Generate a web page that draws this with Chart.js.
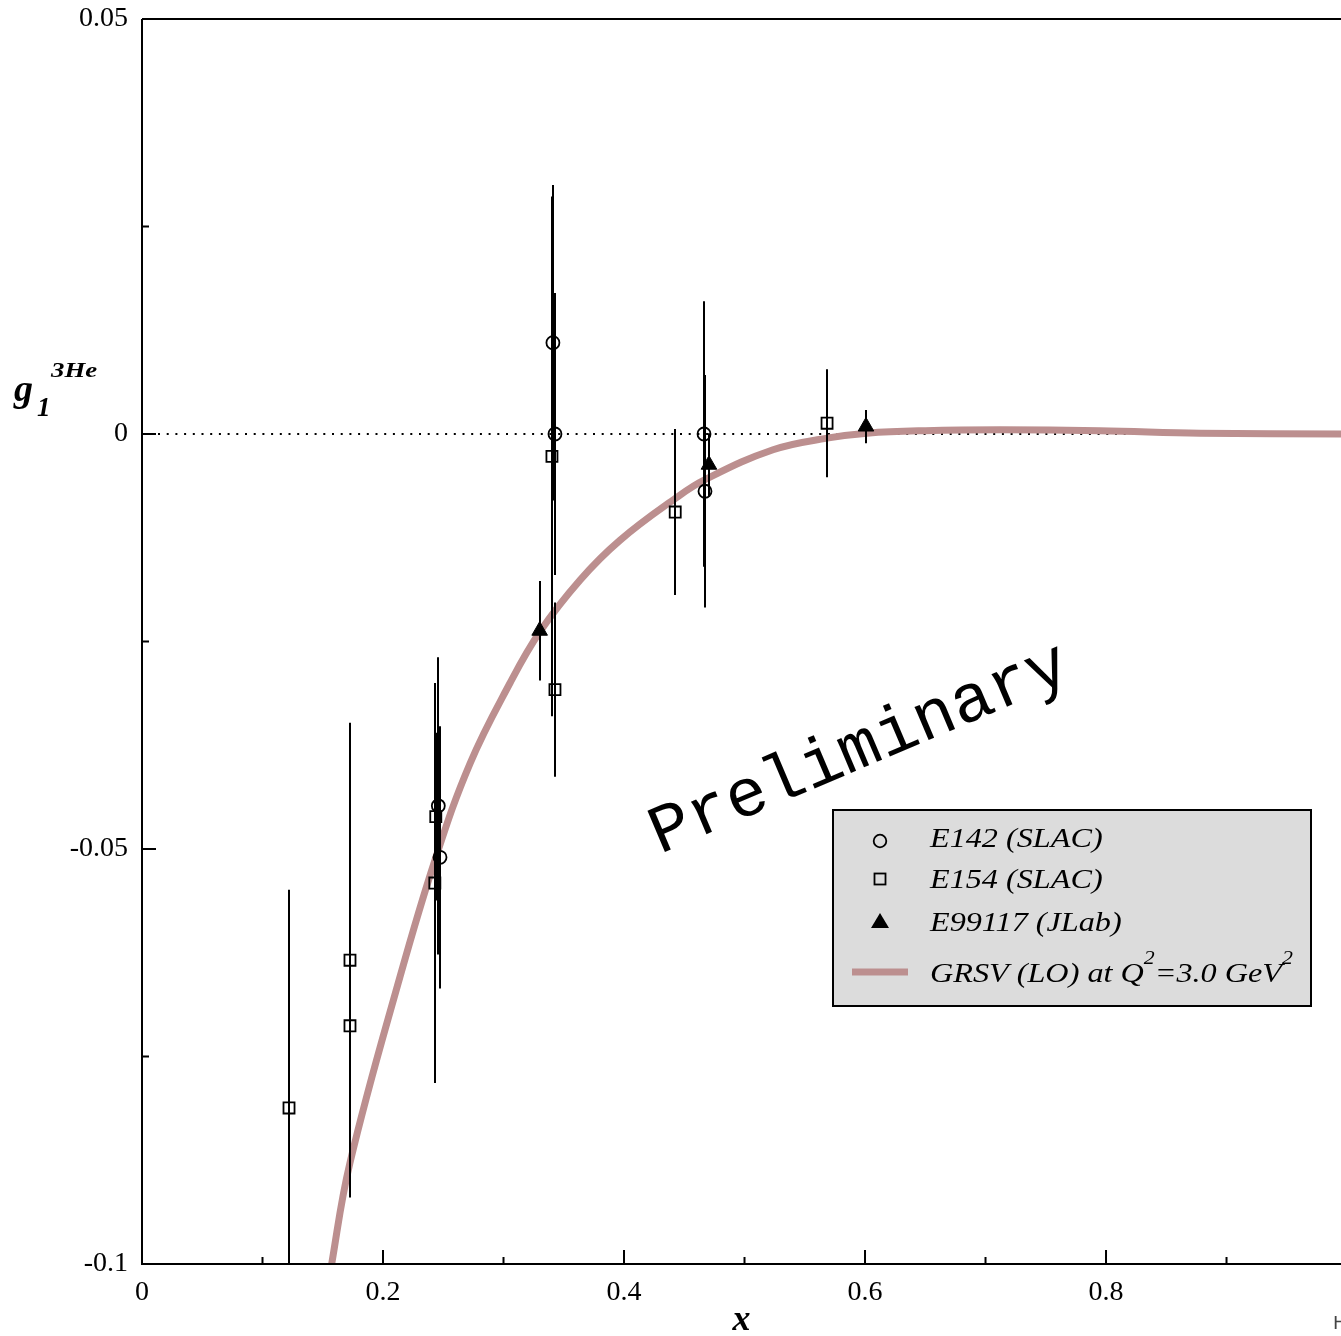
<!DOCTYPE html>
<html>
<head>
<meta charset="utf-8">
<script src="https://cdn.jsdelivr.net/npm/chart.js@4.4.1/dist/chart.umd.min.js"></script>
<style>
  html, body { margin: 0; padding: 0; background: #fff; }
  #wrap { width: 1341px; height: 1336px; }
</style>
</head>
<body>
<div id="wrap"><canvas id="g1Chart" width="1341" height="1336"></canvas></div>
<script>
// E142 (SLAC) - open circles
const e142X = [0.2459, 0.2473, 0.3410, 0.3427, 0.4664, 0.4672];
const e142Y = [-0.0448, -0.0510, 0.0110, 0.0000, 0.0000, -0.0069];
const e142Err = [0.0179, 0.0158, 0.0190, 0.0170, 0.0160, 0.0140];

// E154 (SLAC) - open squares
const e154X = [0.1220, 0.1726, 0.1726, 0.2438, 0.2430, 0.3402, 0.3427, 0.4425, 0.5685];
const e154Y = [-0.0812, -0.0634, -0.0713, -0.0461, -0.0541, -0.0027, -0.0308, -0.0094, 0.0013];
const e154Err = [0.0263, 0.0286, 0.0147, 0.0101, 0.0241, 0.0313, 0.0105, 0.0100, 0.0065];

// E99117 (JLab) - filled triangles
const e99117X = [0.3300, 0.4705, 0.6008];
const e99117Y = [-0.0237, -0.0037, 0.0009];
const e99117Err = [0.0060, 0.0038, 0.0020];

// GRSV (LO) at Q^2 = 3.0 GeV^2
const grsvX = [0.150, 0.1574, 0.1726, 0.2141, 0.2432, 0.2722, 0.3054, 0.3303, 0.3635, 0.3967,
               0.4432, 0.4672, 0.5237, 0.5685, 0.6017, 0.650, 0.712, 0.795, 0.878, 0.995];
const grsvY = [-0.107, -0.100, -0.0878, -0.0654, -0.0513, -0.0397, -0.0300, -0.0238, -0.0176, -0.0128,
               -0.0077, -0.0055, -0.0019, -0.0005, 0.0001, 0.0004, 0.0005, 0.0004, 0.0001, 0.0];

const xMinorTicks = [0.1, 0.3, 0.5, 0.7, 0.9];
const yMinorTicks = [0.025, -0.025, -0.075];

const CURVE_COLOR = '#BC8F8F';
const SERIF = '"Liberation Serif", "Times New Roman", serif';

const toPoints = (xs, ys) => xs.map((v, i) => ({ x: v, y: ys[i] }));
const fmt = v => {
    const r = Math.round(v * 1000) / 1000;
    return r === 0 ? '0' : String(r);
};

// draw a run of text pieces, stretched horizontally a little like the original
function drawRun(ctx, parts, x, baseline, sx) {
    ctx.save();
    ctx.translate(x, baseline);
    ctx.scale(sx, 1);
    let cx = 0;
    for (const p of parts) {
        ctx.font = p.font;
        ctx.fillText(p.text, cx, p.dy || 0);
        cx += ctx.measureText(p.text).width;
    }
    ctx.restore();
}

const errorSets = [
    { xs: e142X, ys: e142Y, err: e142Err },
    { xs: e154X, ys: e154Y, err: e154Err },
    { xs: e99117X, ys: e99117Y, err: e99117Err }
];

const decorPlugin = {
    id: 'decor',
    beforeDatasetsDraw(chart) {
        const { ctx, chartArea: a, scales: { y } } = chart;
        const y0 = y.getPixelForValue(0);
        ctx.save();
        ctx.strokeStyle = '#000';
        ctx.lineWidth = 2;
        ctx.setLineDash([2, 6.7]);
        ctx.beginPath();
        ctx.moveTo(a.left + 16, y0);
        ctx.lineTo(a.right, y0);
        ctx.stroke();
        ctx.restore();
    },
    afterDatasetsDraw(chart) {
        const { ctx, chartArea: a, scales: { x, y } } = chart;
        ctx.save();
        ctx.beginPath();
        ctx.rect(a.left, a.top, a.right - a.left, a.bottom - a.top);
        ctx.clip();
        ctx.strokeStyle = '#000';
        ctx.lineWidth = 2;
        errorSets.forEach(s => {
            s.xs.forEach((xv, i) => {
                const px = Math.round(x.getPixelForValue(xv));
                ctx.beginPath();
                ctx.moveTo(px, y.getPixelForValue(s.ys[i] + s.err[i]));
                ctx.lineTo(px, y.getPixelForValue(s.ys[i] - s.err[i]));
                ctx.stroke();
            });
        });
        ctx.restore();
    },
    afterDraw(chart) {
        const { ctx, chartArea: a, scales: { x, y } } = chart;
        ctx.save();
        ctx.strokeStyle = '#000';
        ctx.lineWidth = 2;

        // frame: left, bottom, top
        ctx.beginPath();
        ctx.moveTo(a.left, a.top);
        ctx.lineTo(a.left, a.bottom);
        ctx.lineTo(a.right, a.bottom);
        ctx.moveTo(a.left, a.top);
        ctx.lineTo(a.right, a.top);
        ctx.stroke();

        // inward ticks
        ctx.beginPath();
        x.ticks.forEach(t => {
            const px = x.getPixelForValue(t.value);
            ctx.moveTo(px, a.bottom); ctx.lineTo(px, a.bottom - 14);
        });
        xMinorTicks.forEach(v => {
            const px = x.getPixelForValue(v);
            if (px > a.right) return;
            ctx.moveTo(px, a.bottom); ctx.lineTo(px, a.bottom - 7);
        });
        y.ticks.forEach(t => {
            const py = y.getPixelForValue(t.value);
            ctx.moveTo(a.left, py); ctx.lineTo(a.left + 14, py);
        });
        yMinorTicks.forEach(v => {
            const py = y.getPixelForValue(v);
            ctx.moveTo(a.left, py); ctx.lineTo(a.left + 7, py);
        });
        ctx.stroke();

        // y axis title g1^3He
        ctx.fillStyle = '#000';
        ctx.textBaseline = 'alphabetic';
        ctx.textAlign = 'left';
        ctx.font = 'italic bold 38px ' + SERIF;
        ctx.fillText('g', 14, 401);
        ctx.font = 'italic bold 27px ' + SERIF;
        ctx.fillText('1', 37, 416);
        drawRun(ctx, [{ text: '3He', font: 'italic bold 22px ' + SERIF }], 51, 377, 1.22);

        // Preliminary
        ctx.save();
        ctx.translate(660, 854);
        ctx.rotate(-23 * Math.PI / 180);
        ctx.font = '68px "Liberation Mono", monospace';
        ctx.fillText('Preliminary', 0, 0);
        ctx.restore();

        // legend box
        ctx.fillStyle = '#dcdcdc';
        ctx.fillRect(833, 810, 478, 196);
        ctx.strokeRect(833, 810, 478, 196);

        ctx.lineWidth = 1.8;
        ctx.beginPath();
        ctx.arc(880, 841, 6.3, 0, Math.PI * 2);
        ctx.stroke();
        ctx.strokeRect(874.5, 873.5, 11, 11);
        ctx.fillStyle = '#000';
        ctx.beginPath();
        ctx.moveTo(880, 913);
        ctx.lineTo(889, 928);
        ctx.lineTo(871, 928);
        ctx.closePath();
        ctx.fill();
        ctx.strokeStyle = CURVE_COLOR;
        ctx.lineWidth = 7;
        ctx.beginPath();
        ctx.moveTo(852, 972);
        ctx.lineTo(908, 972);
        ctx.stroke();

        const it = 'italic 28px ' + SERIF;
        const sup = 'italic 19px ' + SERIF;
        drawRun(ctx, [{ text: 'E142 (SLAC)', font: it }], 930, 847, 1.15);
        drawRun(ctx, [{ text: 'E154 (SLAC)', font: it }], 930, 888, 1.15);
        drawRun(ctx, [{ text: 'E99117 (JLab)', font: it }], 930, 931, 1.15);
        drawRun(ctx, [
            { text: 'GRSV (LO) at Q', font: it },
            { text: '2', font: sup, dy: -18 },
            { text: '=3.0 GeV', font: it },
            { text: '2', font: sup, dy: -18 }
        ], 930, 982, 1.15);

        // cut-off mark at bottom right
        ctx.fillStyle = '#444';
        ctx.font = '18px "DejaVu Sans", sans-serif';
        ctx.fillText('H', 1333, 1329);
        ctx.restore();
    }
};

const ctx = document.getElementById('g1Chart').getContext('2d');
new Chart(ctx, {
    type: 'scatter',
    data: {
        datasets: [
            {
                label: 'GRSV (LO) at Q2=3.0 GeV2',
                data: toPoints(grsvX, grsvY),
                showLine: true,
                borderColor: CURVE_COLOR,
                borderWidth: 7,
                pointRadius: 0,
                tension: 0.4,
                clip: 0,
                order: 3
            },
            {
                label: 'E142 (SLAC)',
                data: toPoints(e142X, e142Y),
                pointStyle: 'circle',
                pointRadius: 6.5,
                borderColor: '#000',
                borderWidth: 1.8,
                backgroundColor: 'rgba(0,0,0,0)',
                order: 1
            },
            {
                label: 'E154 (SLAC)',
                data: toPoints(e154X, e154Y),
                pointStyle: 'rect',
                pointRadius: 7.8,
                borderColor: '#000',
                borderWidth: 1.8,
                backgroundColor: 'rgba(0,0,0,0)',
                order: 1
            },
            {
                label: 'E99117 (JLab)',
                data: toPoints(e99117X, e99117Y),
                pointStyle: 'triangle',
                pointRadius: 9,
                borderColor: '#000',
                borderWidth: 1,
                backgroundColor: '#000',
                order: 2
            }
        ]
    },
    options: {
        responsive: false,
        animation: false,
        layout: { autoPadding: false, padding: { top: 19, right: 0, bottom: 0, left: 0 } },
        plugins: {
            legend: { display: false },
            tooltip: { enabled: false }
        },
        scales: {
            x: {
                type: 'linear',
                min: 0,
                max: 0.995,
                grid: { display: false, drawTicks: false },
                border: { display: false },
                ticks: {
                    stepSize: 0.2,
                    includeBounds: false,
                    padding: 12,
                    color: '#000',
                    maxRotation: 0,
                    autoSkip: false,
                    font: { family: SERIF, size: 28 },
                    callback: v => fmt(v)
                },
                title: {
                    display: true,
                    text: 'x',
                    color: '#000',
                    font: { family: SERIF, size: 36, style: 'italic', weight: 'bold' },
                    padding: { top: 0, bottom: -6 }
                },
                afterFit: s => {
                    s.height = 72;
                    s.paddingLeft = 0;
                    s.paddingRight = 0;
                }
            },
            y: {
                type: 'linear',
                min: -0.1,
                max: 0.05,
                grid: { display: false, drawTicks: false },
                border: { display: false },
                ticks: {
                    stepSize: 0.05,
                    padding: 14,
                    color: '#000',
                    font: { family: SERIF, size: 28 },
                    callback: v => fmt(v)
                },
                afterFit: s => {
                    s.width = 142;
                    s.paddingTop = 0;
                    s.paddingBottom = 0;
                }
            }
        }
    },
    plugins: [decorPlugin]
});
</script>
</body>
</html>
